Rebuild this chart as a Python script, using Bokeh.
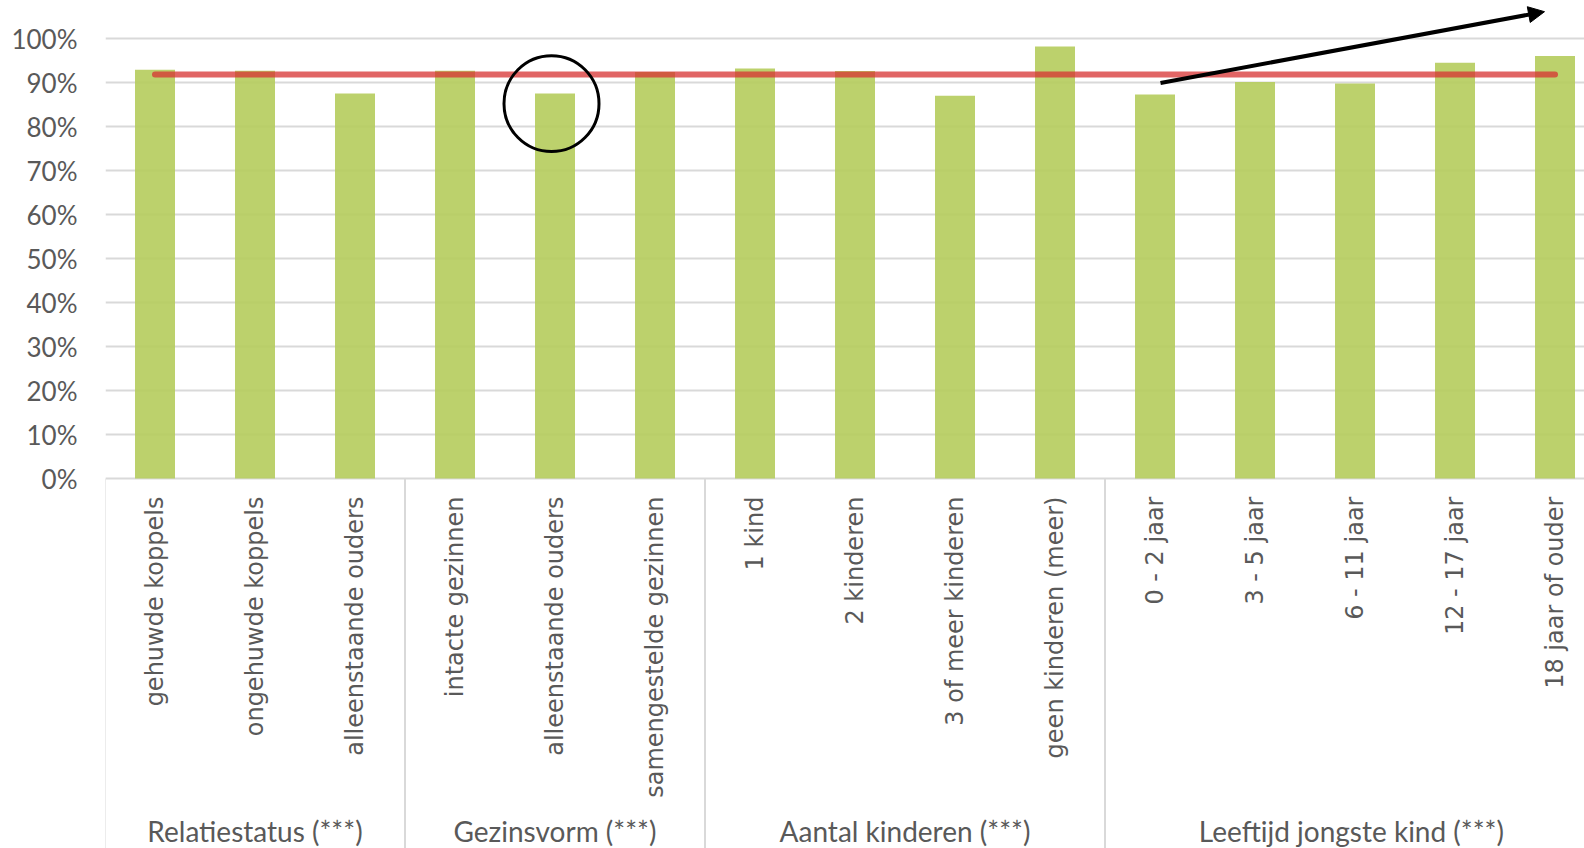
import numpy as np
from bokeh.plotting import figure
from bokeh.models import Range1d, FixedTicker, NumeralTickFormatter, Arrow, NormalHead
from bokeh.core.properties import value
from bokeh.embed import file_html
from bokeh.resources import INLINE

# ---------------- data ----------------
groups = ["Relatiestatus (***)", "Gezinsvorm (***)", "Aantal kinderen (***)",
          "Leeftijd jongste kind  (***)"]
group_sizes = [3, 3, 4, 5]
categories = ["gehuwde koppels", "ongehuwde koppels", "alleenstaande ouders",
              "intacte gezinnen", "alleenstaande ouders", "samengestelde gezinnen",
              "1 kind", "2 kinderen", "3 of meer kinderen", "geen kinderen (meer)",
              "0 - 2 jaar", "3 - 5 jaar", "6 - 11 jaar", "12 - 17 jaar", "18 jaar of ouder"]
values = [0.929, 0.927, 0.875, 0.927, 0.875, 0.924,
          0.932, 0.926, 0.870, 0.982,
          0.873, 0.901, 0.898, 0.945, 0.960]
gemiddelde = 0.918
y_ticks = [0.0, 0.1, 0.2, 0.3, 0.4, 0.5, 0.6, 0.7, 0.8, 0.9, 1.0]
circled_index = 4          # "alleenstaande ouders" (Gezinsvorm)
arrow_from_index = 10      # "0 - 2 jaar"
arrow_to_index = 14        # "18 jaar of ouder"

# ---------------- layout / style ----------------
GRID = "#D9D9D9"
TXT = "#595959"
Y_BOTTOM, Y_TOP = -0.8409, 1.0864
X_START = -0.495
W, H = 1584, 848
LEFT = 105

x = list(range(len(categories)))

p = figure(width=W, height=H, output_backend="svg", toolbar_location=None,
           x_range=Range1d(X_START, X_START + (W - LEFT) / 100.0),
           y_range=Range1d(Y_BOTTOM, Y_TOP),
           x_axis_location=None, min_border_left=LEFT, min_border_right=0,
           min_border_top=0, min_border_bottom=0)
p.outline_line_color = None
p.background_fill_color = "white"
p.border_fill_color = "white"

ticker = FixedTicker(ticks=y_ticks)
p.yaxis.ticker = ticker
p.yaxis.formatter = NumeralTickFormatter(format="0%")
p.yaxis.axis_line_color = None
p.yaxis.major_tick_line_color = None
p.yaxis.minor_tick_line_color = None
p.yaxis.major_tick_out = 0
p.yaxis.major_label_standoff = 28
p.yaxis.major_label_text_font = "Lato"
p.yaxis.major_label_text_font_size = "26px"
p.yaxis.major_label_text_color = TXT

p.ygrid.ticker = ticker
p.ygrid.grid_line_color = GRID
p.ygrid.grid_line_width = 2
p.xgrid.visible = False

# group separators below the axis
bounds = [-0.5] + list(np.cumsum(group_sizes) - 0.5)
p.segment(x0=bounds, y0=[0] * len(bounds), x1=bounds, y1=[Y_BOTTOM] * len(bounds),
          line_color=GRID, line_width=2)

# bars
p.vbar(x=x, top=values, width=0.4, fill_color=(181, 204, 92), fill_alpha=0.9,
       line_color=None)

# average line
p.line(x=[x[0], x[-1]], y=[gemiddelde, gemiddelde], line_color=(215, 50, 50),
       line_alpha=0.75, line_width=6, line_cap="round")

# category labels (rotated)
p.text(x=x, y=[-0.041] * len(x), text=categories, angle=np.pi / 2,
       text_align="right", text_baseline="middle",
       text_font=value("DejaVu Sans"), text_font_size="24px", text_color=TXT)

# group labels
starts = [0] + list(np.cumsum(group_sizes)[:-1])
centers = [s + (n - 1) / 2.0 for s, n in zip(starts, group_sizes)]
p.text(x=centers, y=[-0.80] * len(groups), text=groups, text_align="center",
       text_baseline="middle", text_font=value("Lato"), text_font_size="28px",
       text_color=TXT)

# circle annotation
p.ellipse(x=[circled_index - 0.035], y=[0.852], width=0.95, height=0.2175,
          fill_color=None, line_color="black", line_width=3)

# arrow annotation
p.add_layout(Arrow(end=NormalHead(size=16, fill_color="black", line_color="black"),
                   x_start=arrow_from_index + 0.055, y_start=0.899,
                   x_end=arrow_to_index - 0.105, y_end=1.061,
                   line_color="black", line_width=4))

open("out.html", "w").write(file_html(p, INLINE))
